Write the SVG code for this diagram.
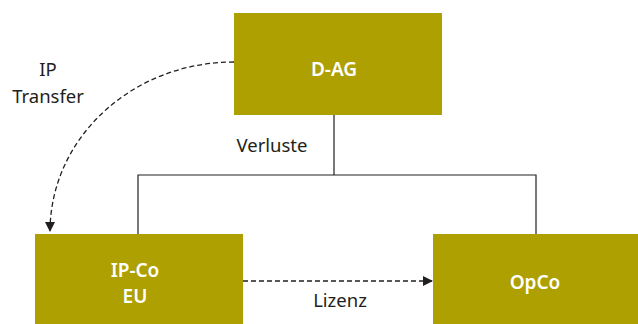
<svg xmlns="http://www.w3.org/2000/svg" width="638" height="324" viewBox="0 0 638 324">
<defs>
<style>
.box{fill:#aea000}
.nt{font-family:"Noto Sans","Open Sans","Liberation Sans",sans-serif;font-weight:600;font-size:19px;fill:#ffffff;text-anchor:middle}
.lbl{font-family:"Noto Sans","Open Sans","Liberation Sans",sans-serif;font-size:18.5px;fill:#231f20;text-anchor:middle}
.ln{fill:none;stroke:#231f20;stroke-width:1.2}
.dash{fill:none;stroke:#231f20;stroke-width:1.3;stroke-dasharray:5 3}
</style>
<marker id="ah" viewBox="0 0 10 10" refX="10" refY="5" markerWidth="10" markerHeight="10" markerUnits="userSpaceOnUse" orient="auto">
<path d="M0,0 L10,5 L0,10 z" fill="#231f20"/>
</marker>
</defs>
<g id="connectors">
<path class="ln" d="M334,115 V175 M138,234 V175 H536 V234"/>
<path class="dash" d="M234,62 C132,62 50,138 50,232" marker-end="url(#ah)"/>
<path class="dash" d="M243,281 H433" marker-end="url(#ah)"/>
</g>
<g id="labels">
<text class="lbl" x="272" y="152">Verluste</text>
<text class="lbl" x="48" y="76">IP</text>
<text class="lbl" x="48" y="103">Transfer</text>
<text class="lbl" x="340" y="307">Lizenz</text>
</g>
<g id="node-dag">
<rect class="box" x="234" y="13" width="208" height="102"/>
<text class="nt" x="334" y="76">D-AG</text>
</g>
<g id="node-ipco">
<rect class="box" x="35" y="234" width="208" height="90"/>
<text class="nt" x="135" y="277">IP-Co</text>
<text class="nt" x="135" y="303">EU</text>
</g>
<g id="node-opco">
<rect class="box" x="433" y="234" width="205" height="90"/>
<text class="nt" x="535" y="289">OpCo</text>
</g>
</svg>
